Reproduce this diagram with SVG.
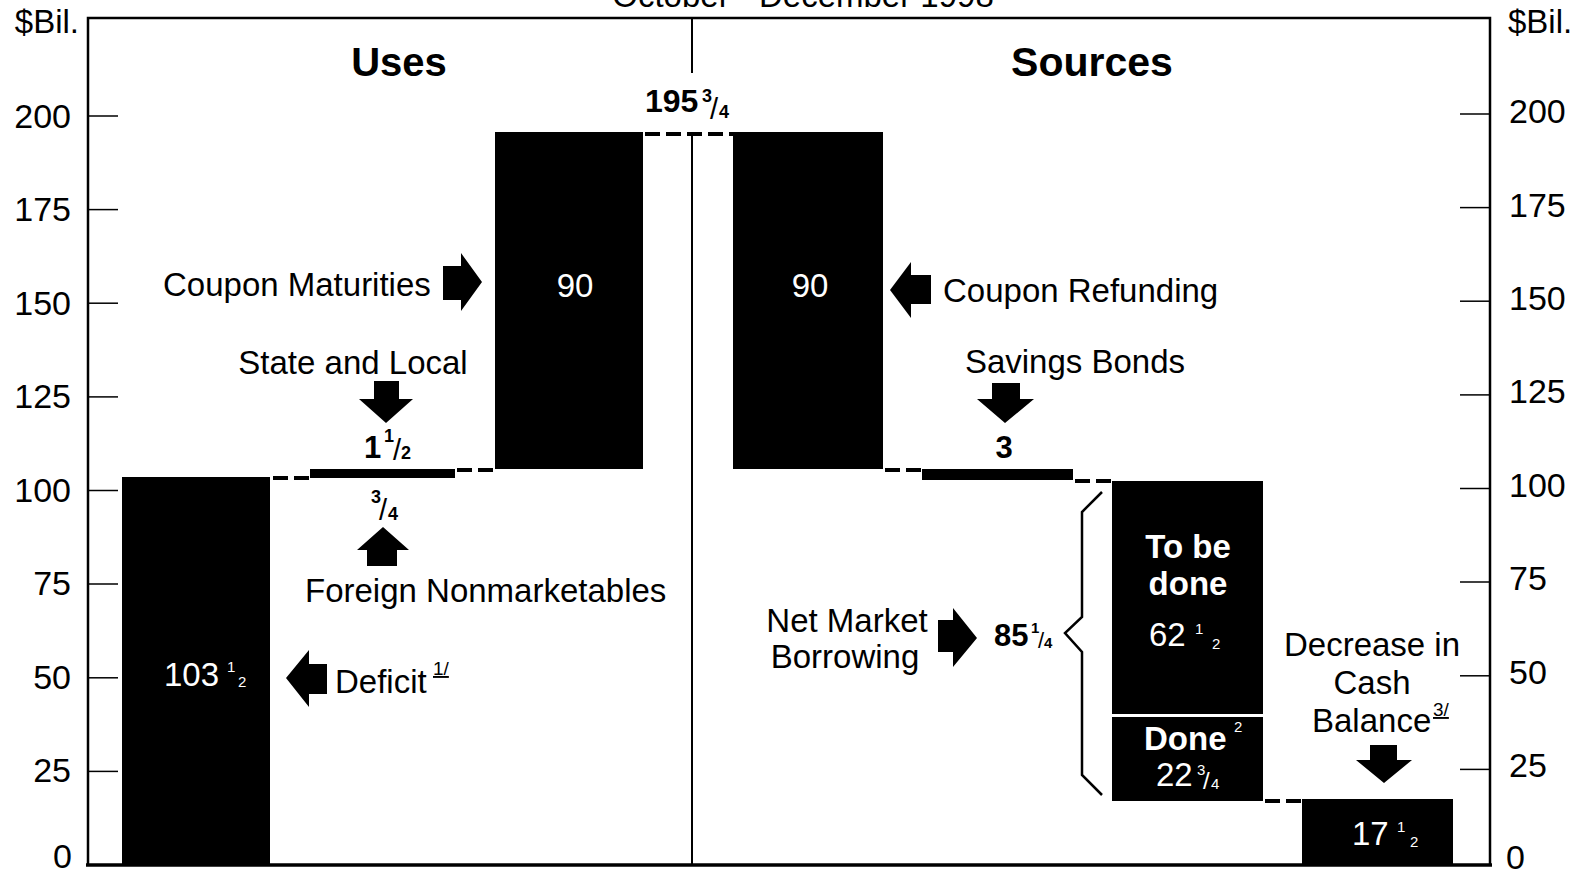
<svg xmlns="http://www.w3.org/2000/svg" width="1580" height="874" viewBox="0 0 1580 874">
<style>
text{font-family:"Liberation Sans",Arial,Helvetica,sans-serif;fill:#000}
.ax{font-size:34px}
.lbl{font-size:33px}
.hd{font-size:40px;font-weight:bold}
.bn{font-size:31px;font-weight:bold}
.fr{font-size:18px;font-weight:bold}
.sl{font-size:29px;font-weight:normal}
.w{fill:#fff}
.wb{fill:#fff;font-weight:bold}
.sm{font-size:15px}
.fn{font-size:19px;text-decoration:underline}
.bar{fill:#000}
.axis{stroke:#000;stroke-width:2.5;fill:none}
.tick{stroke:#000;stroke-width:1.5}
.dash{stroke:#000;stroke-width:4;stroke-dasharray:15 6;fill:none}
.arrow{fill:#000}
</style>

<text x="803" y="7" text-anchor="middle" style="font-size:33px">October - December 1998</text>

<g id="axes">
  <path class="axis" d="M88,866 V18 H1490 V866"/>
  <line x1="86" y1="865" x2="1492" y2="865" stroke="#000" stroke-width="3.5"/>
  <path class="axis" d="M692,18 V73 M692,135 V865" style="stroke-width:2"/>
  <g class="tick">
    <line x1="88" y1="116" x2="118" y2="116"/><line x1="88" y1="209.6" x2="118" y2="209.6"/>
    <line x1="88" y1="303.2" x2="118" y2="303.2"/><line x1="88" y1="396.9" x2="118" y2="396.9"/>
    <line x1="88" y1="490.5" x2="118" y2="490.5"/><line x1="88" y1="584" x2="118" y2="584"/>
    <line x1="88" y1="677.8" x2="118" y2="677.8"/><line x1="88" y1="771.4" x2="118" y2="771.4"/>
    <line x1="1460" y1="114" x2="1490" y2="114"/><line x1="1460" y1="207.6" x2="1490" y2="207.6"/>
    <line x1="1460" y1="301.2" x2="1490" y2="301.2"/><line x1="1460" y1="394.9" x2="1490" y2="394.9"/>
    <line x1="1460" y1="488.5" x2="1490" y2="488.5"/><line x1="1460" y1="582" x2="1490" y2="582"/>
    <line x1="1460" y1="675.8" x2="1490" y2="675.8"/><line x1="1460" y1="769.4" x2="1490" y2="769.4"/>
  </g>
  <g class="ax" text-anchor="end">
    <text x="79" y="33" style="font-size:33px">$Bil.</text>
    <text x="71" y="128">200</text>
    <text x="71" y="221">175</text>
    <text x="71" y="315">150</text>
    <text x="71" y="408">125</text>
    <text x="71" y="502">100</text>
    <text x="71" y="595">75</text>
    <text x="71" y="689">50</text>
    <text x="71" y="782">25</text>
    <text x="72" y="868">0</text>
  </g>
  <g class="ax">
    <text x="1508" y="33" style="font-size:33px">$Bil.</text>
    <text x="1509" y="123">200</text>
    <text x="1509" y="217">175</text>
    <text x="1509" y="310">150</text>
    <text x="1509" y="403">125</text>
    <text x="1509" y="497">100</text>
    <text x="1509" y="590">75</text>
    <text x="1509" y="684">50</text>
    <text x="1509" y="777">25</text>
    <text x="1506" y="869">0</text>
  </g>
  <text x="399" y="76" class="hd" text-anchor="middle">Uses</text>
  <text x="1092" y="76" class="hd" text-anchor="middle" style="font-size:41px">Sources</text>
</g>

<g id="connectors">
  <line class="dash" x1="273" y1="478" x2="310" y2="478"/>
  <line class="dash" x1="457" y1="470" x2="495" y2="470"/>
  <line class="dash" x1="645" y1="134" x2="733" y2="134"/>
  <line class="dash" x1="885" y1="470" x2="922" y2="470"/>
  <line class="dash" x1="1075" y1="481" x2="1112" y2="481"/>
  <line class="dash" x1="1265" y1="801" x2="1302" y2="801"/>
  <path d="M1102,492 L1082,512 L1082,617 L1065,633 L1082,652 L1082,775 L1102,795" fill="none" stroke="#000" stroke-width="2.5"/>
</g>

<g id="total-195">
  <text class="bn" style="font-size:32px"><tspan x="645" y="112">195</tspan><tspan class="fr" x="702" y="102">3</tspan><tspan class="sl" x="710" y="119">/</tspan><tspan class="fr" x="719" y="118">4</tspan></text>
</g>

<g id="deficit">
  <rect class="bar" x="122" y="477" width="148" height="388"/>
  <text class="lbl w"><tspan x="164" y="686">103</tspan><tspan class="sm" x="227" y="672">1</tspan><tspan class="sm" x="238" y="687">2</tspan></text>
  <path class="arrow" d="M286,678 L309,650 L309,664 L327,664 L327,694 L309,694 L309,707 Z"/>
  <text class="lbl"><tspan x="335" y="693">Deficit</tspan><tspan class="fn" x="433" y="675">1/</tspan></text>
</g>

<g id="state-local">
  <rect class="bar" x="310" y="469" width="145" height="9"/>
  <text x="353" y="374" class="lbl" text-anchor="middle">State and Local</text>
  <path class="arrow" d="M374,381 H399 V399 H413 L386,423 L359,399 H374 Z"/>
  <text class="bn"><tspan x="364" y="458">1</tspan><tspan class="fr" x="384" y="442">1</tspan><tspan class="sl" x="393" y="460">/</tspan><tspan class="fr" x="401" y="459">2</tspan></text>
</g>

<g id="foreign">
  <text class="bn"><tspan class="fr" x="371" y="503">3</tspan><tspan class="sl" x="379" y="520">/</tspan><tspan class="fr" x="388" y="520">4</tspan></text>
  <path class="arrow" d="M383,527 L409,550 H397 V566 H367 V550 H357 Z"/>
  <text x="305" y="602" class="lbl">Foreign Nonmarketables</text>
</g>

<g id="coupon-maturities">
  <rect class="bar" x="495" y="132" width="148" height="337"/>
  <text x="575" y="297" class="lbl w" text-anchor="middle">90</text>
  <text x="163" y="296" class="lbl">Coupon Maturities</text>
  <path class="arrow" d="M443,266 H461 V253 L482,282 L461,311 V300 H443 Z"/>
</g>

<g id="coupon-refunding">
  <rect class="bar" x="733" y="132" width="150" height="337"/>
  <text x="810" y="297" class="lbl w" text-anchor="middle">90</text>
  <path class="arrow" d="M890,290 L911,262 V275 H931 V304 H911 V318 Z"/>
  <text x="943" y="302" class="lbl">Coupon Refunding</text>
</g>

<g id="savings-bonds">
  <rect class="bar" x="922" y="469" width="151" height="11"/>
  <text x="1075" y="373" class="lbl" text-anchor="middle">Savings Bonds</text>
  <path class="arrow" d="M992,383 H1020 V399 H1034 L1005,423 L977,399 H992 Z"/>
  <text x="1004" y="458" class="bn" text-anchor="middle">3</text>
</g>

<g id="net-market-borrowing">
  <text x="847" y="632" class="lbl" text-anchor="middle">Net Market</text>
  <text x="845" y="668" class="lbl" text-anchor="middle">Borrowing</text>
  <path class="arrow" d="M938,620 H953 V608 L977,638 L953,667 V652 H938 Z"/>
  <text class="bn"><tspan x="994" y="646">85</tspan><tspan class="fr" x="1031" y="633" style="font-size:15px">1</tspan><tspan class="sl" x="1038" y="648" style="font-size:22px">/</tspan><tspan class="fr" x="1044" y="648" style="font-size:15px">4</tspan></text>
</g>

<g id="to-be-done">
  <rect class="bar" x="1112" y="481" width="151" height="233"/>
  <text x="1188" y="558" class="lbl wb" text-anchor="middle">To be</text>
  <text x="1188" y="595" class="lbl wb" text-anchor="middle">done</text>
  <text class="lbl w"><tspan x="1149" y="646">62</tspan><tspan class="sm" x="1195" y="634">1</tspan><tspan class="sm" x="1212" y="649">2</tspan></text>
</g>

<g id="done">
  <rect class="bar" x="1112" y="717" width="151" height="84"/>
  <text class="lbl wb"><tspan x="1144" y="750">Done</tspan><tspan class="sm" x="1234" y="732" style="font-weight:normal">2</tspan></text>
  <text class="lbl w"><tspan x="1156" y="786">22</tspan><tspan class="sm" x="1197" y="775">3</tspan><tspan class="sl w" x="1203" y="789" style="font-size:24px">/</tspan><tspan class="sm" x="1211" y="789">4</tspan></text>
</g>

<g id="cash-balance">
  <rect class="bar" x="1302" y="799" width="151" height="66"/>
  <text class="lbl w"><tspan x="1352" y="845">17</tspan><tspan class="sm" x="1397" y="832">1</tspan><tspan class="sm" x="1410" y="847">2</tspan></text>
  <text x="1372" y="656" class="lbl" text-anchor="middle">Decrease in</text>
  <text x="1372" y="694" class="lbl" text-anchor="middle">Cash</text>
  <text class="lbl"><tspan x="1312" y="732">Balance</tspan><tspan class="fn" x="1433" y="716">3/</tspan></text>
  <path class="arrow" d="M1370,745 H1397 V760 H1412 L1384,783 L1356,760 H1370 Z"/>
</g>
</svg>
